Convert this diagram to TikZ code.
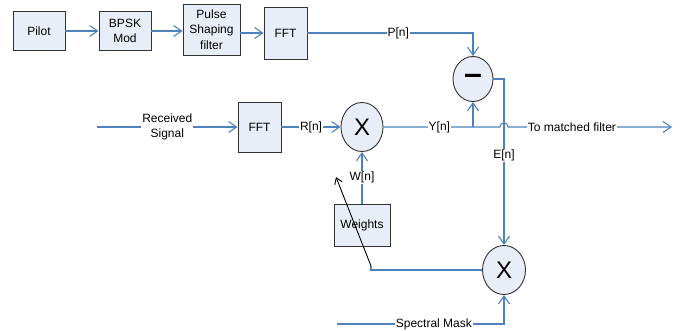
\documentclass[tikz,border=0pt]{standalone}
\usepackage{fontspec}
\setmainfont{Liberation Sans}
\usetikzlibrary{positioning, arrows.meta, shapes.geometric}
\definecolor{lineblue}{RGB}{79,129,189}
\definecolor{boxfill}{RGB}{232,238,247}
\begin{document}
\begin{tikzpicture}[x=1pt, y=-1pt,
	block/.style={rectangle, draw=black!80, fill=boxfill, line width=0.9pt, align=center, inner sep=1pt, font=\fontsize{12}{15.5}\selectfont},
	mixer/.style={ellipse, draw=black!80, fill=boxfill, line width=0.9pt, inner sep=0pt, minimum width=42pt, minimum height=49pt, font=\fontsize{24}{24}\selectfont},
	wire/.style={draw=lineblue, line width=1.1pt},
	arr/.style={wire, -{Straight Barb[length=8pt, width=11pt, line width=1.1pt]}},
	lbl/.style={fill=white, inner sep=1pt, align=center, font=\fontsize{12}{15}\selectfont}]
	
	\useasboundingbox (0,0) rectangle (693,331);
	
	%Blocks
	\node[block, minimum width=52pt, minimum height=39pt] (pilot) at (39,31){Pilot};
	\node[block, minimum width=52pt, minimum height=39pt] (bpsk) at (125,31){BPSK\\Mod};
	\node[block, minimum width=57pt, minimum height=51pt] (pulse) at (211.5,29.5){Pulse\\Shaping\\filter};
	\node[block, minimum width=43pt, minimum height=52pt] (fftp) at (285.5,33){FFT};
	\node[block, minimum width=43pt, minimum height=50pt] (fftr) at (259.5,127){FFT};
	\node[block, minimum width=56pt, minimum height=42pt] (weights) at (362,225){Weights};
	
	%Circles
	\node[mixer, minimum width=40pt, minimum height=45pt, font=\fontsize{32}{32}\selectfont\bfseries] (minus) at (473,79){–};
	\node[mixer] (multy) at (362,127){X};
	\node[mixer, minimum width=43pt] (multe) at (504,270){X};
	
	%Free ends
	\coordinate (rx) at (97,127);
	\coordinate (out) at (672,127);
	\coordinate (mask) at (337,324);
	\coordinate (hook) at (371,266);
	\coordinate (tip) at (336,177);
	
	%Pilot chain
	\draw[arr] (pilot.east) -- (bpsk.west);
	\draw[arr] (bpsk.east) -- (bpsk.east -| pulse.west);
	\draw[arr] (fftp.west -| pulse.east) -- (fftp.west);
	\draw[arr] (fftp.east) -| node[lbl, pos=0.274]{P[n]} (minus.north);
	
	%Receive chain
	\draw[arr] (rx) -- node[lbl]{Received\\Signal} (fftr.west);
	\draw[arr] (fftr.east) -- node[lbl]{R[n]} (multy.west);
	\draw[arr] (multy.east) -- node[lbl, pos=0.48]{Y[n]} (500,127)
		.. controls (500,121.5) and (508,121.5) .. (508,127)
		-- node[lbl, pos=0.39]{To matched filter} (out);
	\draw[arr] (minus |- multy) -- (minus.south);
	\draw[arr] (minus.east) -| node[lbl, pos=0.73]{E[n]} (multe.north);
	\draw[arr] (weights.north) -- node[lbl]{W[n]} (multy.south);
	
	%Update
	\draw[arr] (mask) -| node[lbl, pos=0.29]{Spectral Mask} (multe.south);
	\draw[wire] (multe.west) -| (hook);
	\draw[line width=0.9pt, -{Straight Barb[length=6pt, width=8pt, line width=0.9pt]}] (hook) -- (tip);
	
\end{tikzpicture}
\end{document}
